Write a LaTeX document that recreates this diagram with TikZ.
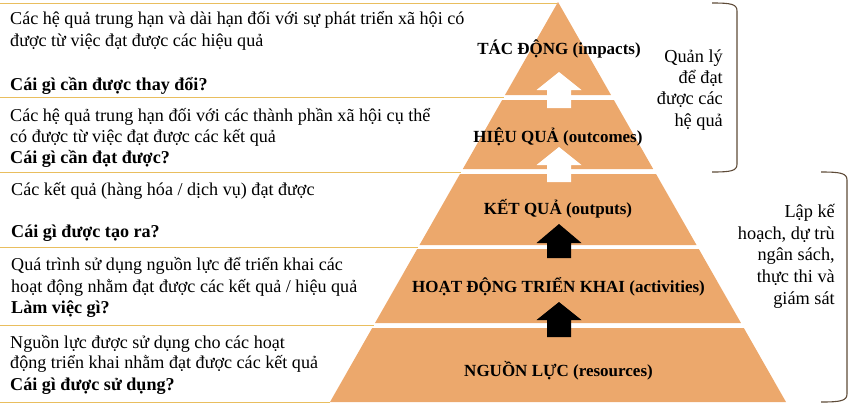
\documentclass[tikz,border=0pt]{standalone}
\usepackage{fontspec}
\setmainfont{Liberation Serif}
\definecolor{pyrfill}{HTML}{ECA86C}
\definecolor{goldline}{HTML}{E9BE5E}
\definecolor{brkcol}{HTML}{5E4B38}
\newcommand\pyrlayer[2]{\fill[pyrfill] ({558-(#1-2)*0.57},#1) -- ({558+(#1-2)*0.57},#1) -- ({558+(#2-2)*0.57},#2) -- ({558-(#2-2)*0.57},#2) -- cycle;}
\newcommand\blkarrow[4]{\fill[#1] (559,#2) -- (581.5,#3) -- (571,#3) -- (571,#4) -- (547,#4) -- (547,#3) -- (536.5,#3) -- cycle;}
\newcommand\sepline[1]{\draw[sep] (0,#1) -- ({558-(#1-2)*0.57},#1);}
\begin{document}
\begin{tikzpicture}[x=1pt,y=-1pt,
  txt/.style={font=\fontsize{18.1}{21.5}\selectfont, inner sep=0pt, anchor=base west},
  bld/.style={txt, font=\fontsize{18.1}{21.5}\selectfont\bfseries},
  lvl/.style={font=\fontsize{17}{21.5}\selectfont\bfseries, inner sep=0pt, anchor=base},
  side/.style={font=\fontsize{18.3}{21.5}\selectfont, inner sep=0pt, anchor=base east},
  sep/.style={draw=goldline, line width=1pt},
  brk/.style={draw=brkcol, line width=1.1pt}]
\useasboundingbox (0,0) rectangle (849,416);
% pyramid layers
\pyrlayer{2}{95}
\pyrlayer{100}{169}
\pyrlayer{174}{245}
\pyrlayer{249}{323}
\pyrlayer{328}{402}
% separator lines
\draw[sep] (0,3) -- (557,3);
\sepline{97}
\sepline{172}
\sepline{247}
\sepline{325}
\sepline{402}
% arrows
\blkarrow{white}{72}{90}{108}
\blkarrow{white}{147}{165}{182}
\blkarrow{black}{224}{243}{258}
\blkarrow{black}{302}{320}{337}
% level labels
\node[lvl] (impacts) at (559,54) {TÁC ĐỘNG (impacts)};
\node[lvl] (outcomes) at (558,142) {HIỆU QUẢ (outcomes)};
\node[lvl] (outputs) at (558,214) {KẾT QUẢ (outputs)};
\node[lvl] (activities) at (558.5,292) {HOẠT ĐỘNG TRIỂN KHAI (activities)};
\node[lvl] (resources) at (558.5,376) {NGUỒN LỰC (resources)};
% left texts
\node[txt] (a1) at (10,24) {Các hệ quả trung hạn và dài hạn đối với sự phát triển xã hội có};
\node[txt] (a2) at (10,46) {được từ việc đạt được các hiệu quả};
\node[bld] (a3) at (10,90) {Cái gì cần được thay đổi?};
\node[txt] (b1) at (10,121) {Các hệ quả trung hạn đối với các thành phần xã hội cụ thể};
\node[txt] (b2) at (10,142) {có được từ việc đạt được các kết quả};
\node[bld] (b3) at (10,163) {Cái gì cần đạt được?};
\node[txt] (c1) at (11,195) {Các kết quả (hàng hóa / dịch vụ) đạt được};
\node[bld] (c2) at (11,237) {Cái gì được tạo ra?};
\node[txt] (d1) at (11,270) {Quá trình sử dụng nguồn lực để triển khai các};
\node[txt] (d2) at (11,292) {hoạt động nhằm đạt được các kết quả / hiệu quả};
\node[bld] (d3) at (11,313) {Làm việc gì?};
\node[txt] (e1) at (10,348) {Nguồn lực được sử dụng cho các hoạt};
\node[txt] (e2) at (10,368) {động triển khai nhằm đạt được các kết quả};
\node[bld] (e3) at (10,390) {Cái gì được sử dụng?};
% brackets
\draw[brk] (712,3) .. controls (731,3) and (737,4) .. (737,11) -- (737,164) .. controls (737,171) and (731,172) .. (712,172);
\draw[brk] (821,172) .. controls (840,172) and (847,173) .. (847,180) -- (847,394) .. controls (847,401) and (840,402) .. (821,402);
% side texts
\node[side] (q1) at (723,62) {Quản lý};
\node[side] (q2) at (723,83) {để đạt};
\node[side] (q3) at (723,104) {được các};
\node[side] (q4) at (723,126) {hệ quả};
\node[side] (p1) at (835,217) {Lập kế};
\node[side] (p2) at (835,239) {hoạch, dự trù};
\node[side] (p3) at (835,260) {ngân sách,};
\node[side] (p4) at (835,282) {thực thi và};
\node[side] (p5) at (835,304) {giám sát};
\end{tikzpicture}
\end{document}
